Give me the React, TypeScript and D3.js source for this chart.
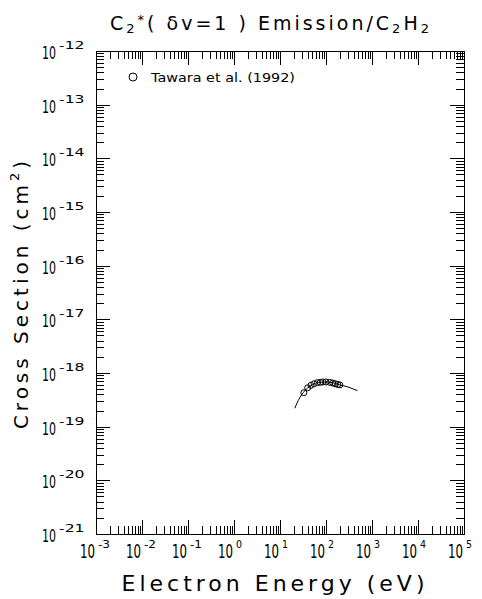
import React, { useEffect, useRef } from 'react';
import * as d3 from 'd3';

// Tawara et al. (1992) measured points
const pointEnergy = [33, 40, 47, 55, 65, 75, 85, 100, 120, 140, 160, 180, 200];
const pointSigma = [4.3e-19, 5.3e-19, 5.9e-19, 6.3e-19, 6.6e-19, 6.7e-19, 6.8e-19, 6.8e-19, 6.7e-19, 6.5e-19, 6.3e-19, 6.1e-19, 6.0e-19];

// recommended curve
const curveEnergy = [21, 25, 30, 40, 50, 70, 100, 150, 200, 300, 400, 480];
const curveSigma = [2.2e-19, 3.1e-19, 4.0e-19, 5.3e-19, 6.0e-19, 6.7e-19, 6.8e-19, 6.5e-19, 6.0e-19, 5.5e-19, 5.0e-19, 4.7e-19];

const xDecades = [-3, -2, -1, 0, 1, 2, 3, 4, 5];
const yDecades = [-21, -20, -19, -18, -17, -16, -15, -14, -13, -12];

const FONT = "'DejaVu Sans', sans-serif";

export default function App() {
  const ref = useRef<SVGSVGElement>(null);

  useEffect(() => {
    if (!ref.current) return;
    const svg = d3.select(ref.current);
    svg.selectAll('*').remove();

    const left = 96, right = 464, top = 51, bottom = 534;

    const x = d3.scaleLog().domain([1e-3, 1e5]).range([left, right]);
    const y = d3.scaleLog().domain([1e-21, 1e-12]).range([bottom, top]);

    const majX = xDecades.map((d) => Math.pow(10, d));
    const minX: number[] = [];
    xDecades.slice(0, -1).forEach((d) => {
      for (let k = 2; k < 10; k++) minX.push(k * Math.pow(10, d));
    });
    const majY = yDecades.map((d) => Math.pow(10, d));
    const minY: number[] = [];
    yDecades.slice(0, -1).forEach((d) => {
      for (let k = 2; k < 10; k++) minY.push(k * Math.pow(10, d));
    });

    const mk = (axis: any, tx: number, ty: number) => {
      const g = svg.append('g').attr('transform', `translate(${tx},${ty})`).call(axis);
      g.select('.domain').remove();
      g.selectAll('text').remove();
      g.selectAll('line').attr('stroke', '#000').attr('shape-rendering', 'crispEdges');
    };
    const fmt = () => '';
    mk(d3.axisBottom(x).tickValues(majX).tickSize(-14).tickFormat(fmt), 0, bottom);
    mk(d3.axisBottom(x).tickValues(minX).tickSize(-8).tickFormat(fmt), 0, bottom);
    mk(d3.axisTop(x).tickValues(majX).tickSize(-14).tickFormat(fmt), 0, top);
    mk(d3.axisTop(x).tickValues(minX).tickSize(-8).tickFormat(fmt), 0, top);
    mk(d3.axisLeft(y).tickValues(majY).tickSize(-14).tickFormat(fmt), left, 0);
    mk(d3.axisLeft(y).tickValues(minY).tickSize(-8).tickFormat(fmt), left, 0);
    mk(d3.axisRight(y).tickValues(majY).tickSize(-14).tickFormat(fmt), right, 0);
    mk(d3.axisRight(y).tickValues(minY).tickSize(-8).tickFormat(fmt), right, 0);

    svg.append('rect')
      .attr('x', left).attr('y', top)
      .attr('width', right - left).attr('height', bottom - top)
      .attr('fill', 'none').attr('stroke', '#000').attr('shape-rendering', 'crispEdges');

    // power-of-ten label as one text: "10" ending at endX, exponent after a small gap
    const power = (endX: number, baseY: number, size: number, baseLen: number, expPer: number, d: number) => {
      const t = svg.append('text').attr('font-family', FONT).attr('y', baseY);
      t.append('tspan').attr('x', endX - baseLen).attr('font-size', size)
        .attr('textLength', baseLen).attr('lengthAdjust', 'spacingAndGlyphs').text('10');
      const e = String(d);
      t.append('tspan').attr('x', endX + 3).attr('dy', -10).attr('font-size', 11)
        .attr('textLength', e.length * expPer).attr('lengthAdjust', 'spacingAndGlyphs').text(e);
    };

    xDecades.forEach((d) => power(x(Math.pow(10, d)) - 1, 558, 19, 15, 6, d));
    yDecades.forEach((d) => power(56, y(Math.pow(10, d)) + 8, 18, 14, 8.5, d));

    // curve
    const line = d3.line<number>()
      .x((_, i) => x(curveEnergy[i]))
      .y((s) => y(s))
      .curve(d3.curveMonotoneX);
    svg.append('path').attr('d', line(curveSigma)).attr('fill', 'none')
      .attr('stroke', '#000').attr('stroke-width', 1);

    // points
    svg.append('g').selectAll('circle').data(pointSigma).join('circle')
      .attr('cx', (_, i) => x(pointEnergy[i]))
      .attr('cy', (s) => y(s))
      .attr('r', 3)
      .attr('fill', 'none').attr('stroke', '#000').attr('stroke-width', 1);

    // legend
    svg.append('circle').attr('cx', 133).attr('cy', 77).attr('r', 4)
      .attr('fill', 'none').attr('stroke', '#000');
    svg.append('text').attr('x', 151).attr('y', 82).attr('font-size', 13)
      .attr('font-family', FONT).attr('textLength', 144).attr('lengthAdjust', 'spacingAndGlyphs')
      .text('Tawara et al. (1992)');

    // title
    const title = svg.append('text').attr('x', 271).attr('y', 30).attr('text-anchor', 'middle')
      .attr('font-size', 19).attr('font-family', FONT).attr('letter-spacing', 3);
    title.append('tspan').text('C');
    title.append('tspan').attr('font-size', 13).attr('dy', 3).text('2');
    title.append('tspan').attr('font-size', 13).attr('dy', -9).text('*');
    title.append('tspan').attr('dy', 6).text('( δv=1 ) Emission/C');
    title.append('tspan').attr('font-size', 13).attr('dy', 3).text('2');
    title.append('tspan').attr('dy', -3).text('H');
    title.append('tspan').attr('font-size', 13).attr('dy', 3).text('2');

    // axis titles
    svg.append('text').attr('x', 275).attr('y', 591).attr('text-anchor', 'middle')
      .attr('font-size', 22).attr('font-family', FONT).attr('letter-spacing', 4)
      .text('Electron Energy (eV)');

    const yl = svg.append('text').attr('transform', 'translate(28,293) rotate(-90)')
      .attr('text-anchor', 'middle').attr('font-size', 20).attr('font-family', FONT)
      .attr('letter-spacing', 4);
    yl.append('tspan').text('Cross Section (cm');
    yl.append('tspan').attr('font-size', 13).attr('dy', -9).text('2');
    yl.append('tspan').attr('dy', 9).text(')');
  }, []);

  return (
    <svg ref={ref} width={482} height={599}
      style={{ position: 'absolute', left: 0, top: 0, background: '#fff' }} />
  );
}
